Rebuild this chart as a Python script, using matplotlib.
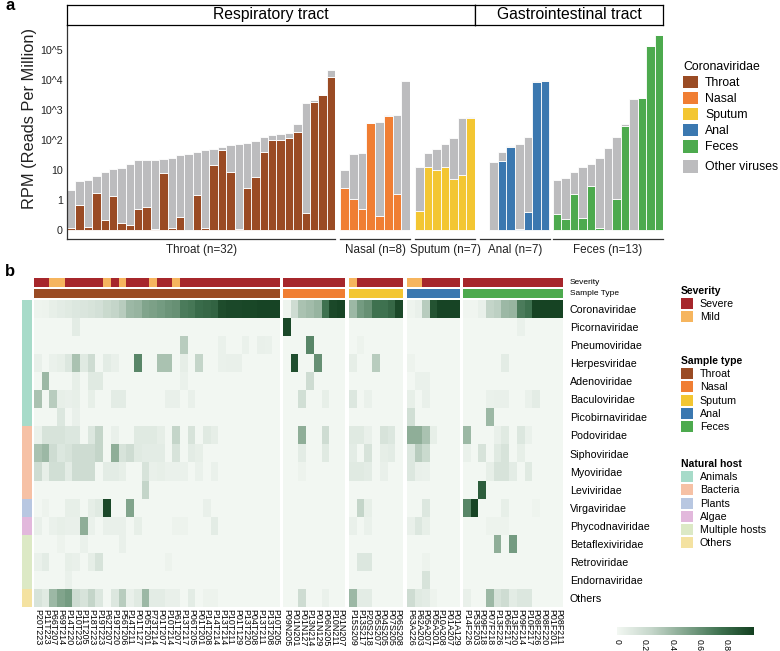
import numpy as np
import matplotlib
matplotlib.use('Agg')
import matplotlib.pyplot as plt
from matplotlib.colors import ListedColormap, LinearSegmentedColormap
from matplotlib.patches import Patch

plt.rcParams['font.family'] = ['Liberation Sans', 'DejaVu Sans']

# ---------------- panel a data (RPM) ----------------
throat_total = [2.2, 4.2, 4.6, 6.5, 8.8, 11, 11.7, 16, 21, 21, 22, 23, 24.5, 31, 34, 40,
                48, 49, 60, 66, 76, 77, 93, 130, 147, 155, 170, 330, 1750, 2150, 3200, 21500]
throat_cov = [0.12, 0.7, 0.13, 1.7, 0.22, 1.35, 0.17, 0.15, 0.5, 0.58, 0.11, 8.1, 0.12, 0.28, 0, 1.5,
              0.12, 15, 46, 8.5, 0.11, 2.6, 6, 40, 102, 102, 120, 185, 0.37, 1900, 3200, 13000]
nasal_total = [10, 33, 38, 370, 400, 680, 690, 9500]
nasal_cov = [2.6, 1.05, 0.49, 370, 0.29, 620, 1.6, 0]
sputum_total = [12.3, 36, 50, 72, 114, 550, 600]
sputum_cov = [0.44, 13, 10, 13, 5.2, 7, 530]
anal_total = [18, 39, 65, 74, 123, 9300, 9800]
anal_cov = [0, 19.5, 59, 0.11, 0.41, 8300, 9300]
feces_total = [4.6, 5.3, 8.4, 12.6, 16, 26, 55, 125, 340, 2300, 2500, 138000, 320000]
feces_cov = [0.33, 0.23, 1.6, 0.26, 3.0, 0.12, 0, 1.1, 300, 0, 2500, 138000, 320000]

sample_types = ['Throat', 'Nasal', 'Sputum', 'Anal', 'Feces']
sample_colors = ['#9A4B24', '#F07E33', '#F3C632', '#3B78B0', '#4DAA4E']
other_color = '#BCBCBE'
ytick_labels = ['0', '1', '10', '10^2', '10^3', '10^4', '10^5']

# ---------------- panel b data (fraction of reads) ----------------
families = ['Coronaviridae', 'Picornaviridae', 'Pneumoviridae', 'Herpesviridae', 'Adenoviridae',
            'Baculoviridae', 'Picobirnaviridae', 'Podoviridae', 'Siphoviridae', 'Myoviridae',
            'Leviviridae', 'Virgaviridae', 'Phycodnaviridae', 'Betaflexiviridae', 'Retroviridae',
            'Endornaviridae', 'Others']
family_host = [0, 0, 0, 0, 0, 0, 0, 1, 1, 1, 1, 2, 3, 4, 4, 4, 5]
host_names = ['Animals', 'Bacteria', 'Plants', 'Algae', 'Multiple hosts', 'Others']
host_colors = ['#A7DBC9', '#F6C1A5', '#B8C7E1', '#E2B8DC', '#DCE9C5', '#F4E2A1']
sev_names = ['Severe', 'Mild']
sev_colors = ['#A6262B', '#F6B55E']

throat_ids = ['P20T223', 'P11T223', 'P66T207', 'P69T214', 'P14T220', 'P10T223', 'P11T205', 'P18T223',
              'P19T223', 'P62T207', 'P19T220', 'P56T206', 'P14T211', 'P01T127', 'P05T201', 'P73T214',
              'P01T207', 'P10T214', 'P61T207', 'P13T217', 'P06T205', 'P01T201', 'P14T208', 'P14T214',
              'P13T214', 'P10T211', 'P01T129', 'P13T220', 'P04T208', 'P13T211', 'P13T208', 'P10T205']
nasal_ids = ['P09N205', 'P01N201', 'P01N127', 'P13N214', 'P01N129', 'P06N205', 'P10N211', 'P01N207']
sputum_ids = ['P15S209', 'P13S217', 'P20S218', 'P05S207', 'P04S205', 'P07S205', 'P06S208']
anal_ids = ['P63A226', 'P62A203', 'P05A207', 'P05A201', 'P10A208', 'P01A207', 'P01A129']
feces_ids = ['P14F226', 'P53F203', 'P09F218', 'P07F218', 'P13F226', 'P06F217', 'P13F220',
             'P09F214', 'P10F217', 'P08F226', 'P08F220', 'P01F201', 'P08F211']

# 1 = severe, 0 = mild
throat_sev = [1, 1, 0, 0, 1, 1, 1, 1, 1, 0, 1, 0, 1, 1, 1, 0, 1, 1, 0] + [1] * 13
nasal_sev = [1] * 8
sputum_sev = [0, 1, 1, 1, 1, 1, 1]
anal_sev = [0, 0, 1, 1, 1, 1, 1]
feces_sev = [1] * 13

throat_hm = [
    [.02, .03, .06, .08, .10, .12, .13, .15, .17, .22, .25, .30, .40, .42, .50, .52, .55, .58, .60, .70, .72, .78, .80, .82, .93, .95, .95, .96, .96, .97, .97, .97],
    [0, 0, 0, 0, 0, .08, 0, 0, 0, 0, 0, 0, 0, 0, 0, 0, 0, 0, 0, 0, 0, 0, 0, 0, 0, 0, 0, 0, 0, 0, 0, 0],
    [0, 0, 0, 0, 0, 0, 0, 0, 0, 0, 0, 0, 0, 0, 0, 0, 0, 0, 0, .30, 0, 0, 0, 0, .04, 0, 0, .04, 0, .05, .04, 0],
    [.05, 0, .04, .06, .12, .35, .10, .20, 0, .08, .05, 0, 0, .65, 0, 0, .35, .35, 0, .07, 0, .25, 0, 0, .04, .05, .05, 0, 0, 0, 0, 0],
    [0, .40, 0, 0, 0, .06, 0, .10, .10, 0, 0, 0, 0, 0, 0, 0, 0, 0, 0, .04, 0, 0, 0, 0, 0, 0, 0, 0, 0, 0, 0, 0],
    [.35, 0, .30, .06, .05, .06, 0, .06, 0, 0, .08, .08, 0, 0, 0, 0, 0, .05, .05, 0, .05, 0, 0, 0, 0, 0, 0, 0, 0, 0, 0, 0],
    [0, 0, 0, .12, 0, .05, 0, 0, 0, 0, 0, 0, 0, 0, 0, 0, 0, 0, 0, 0, 0, 0, 0, 0, 0, 0, 0, 0, 0, 0, 0, 0],
    [.04, .15, .15, .15, .12, .12, 0, .12, .25, 0, .05, 0, 0, .10, .10, .10, .07, 0, .25, 0, .15, 0, .10, .07, 0, 0, 0, 0, 0, 0, 0, 0],
    [.35, .40, .20, .12, .15, .20, .20, .20, .25, 0, .45, .15, .20, .10, .08, .08, .08, 0, .15, 0, .08, .06, 0, 0, 0, 0, 0, 0, 0, 0, 0, 0],
    [.20, .06, .18, .18, .08, .20, .20, .20, 0, .08, .08, .06, 0, 0, .15, .05, .06, .04, .04, .04, 0, .04, 0, .04, 0, 0, 0, 0, 0, 0, 0, 0],
    [0, 0, 0, 0, 0, 0, 0, 0, 0, 0, 0, 0, 0, 0, .25, 0, 0, 0, 0, 0, 0, 0, 0, 0, 0, 0, 0, 0, 0, 0, 0, 0],
    [0, .03, 0, 0, .06, .06, 0, .07, .10, .95, 0, 0, .50, 0, 0, 0, 0, 0, 0, 0, 0, 0, .05, 0, 0, 0, 0, 0, 0, 0, 0, 0],
    [.05, 0, .04, .06, .05, .05, .45, .04, 0, .05, .05, .05, 0, .06, 0, 0, 0, 0, .03, .03, 0, 0, 0, .08, 0, 0, 0, 0, 0, 0, 0, 0],
    [0, 0, 0, .03, 0, 0, .04, 0, 0, 0, 0, .05, 0, 0, 0, 0, 0, 0, 0, 0, 0, 0, 0, 0, 0, 0, 0, 0, 0, 0, 0, 0],
    [.04, .08, 0, 0, .06, .05, 0, .07, .15, 0, 0, 0, 0, 0, 0, 0, 0, .03, 0, 0, 0, 0, 0, 0, 0, 0, 0, 0, 0, 0, 0, 0],
    [0, 0, 0, 0, .04, 0, 0, 0, 0, 0, 0, 0, 0, 0, 0, 0, 0, 0, 0, 0, 0, 0, 0, 0, 0, 0, 0, 0, 0, 0, 0, 0],
    [.15, .10, .40, .50, .55, .20, .15, .25, .12, 0, .12, .30, .05, .10, .40, .08, .08, .05, .05, 0, .08, 0, .03, .03, 0, 0, 0, 0, 0, 0, 0, 0],
]
nasal_hm = [
    [.02, .20, .35, .38, .42, .75, .95, .97],
    [.95, 0, 0, 0, 0, 0, 0, 0],
    [0, 0, 0, .65, 0, 0, 0, 0],
    [0, .92, 0, 0, .60, 0, 0, 0],
    [0, 0, 0, .20, 0, 0, 0, 0],
    [0, 0, .18, 0, 0, .06, 0, 0],
    [0, 0, 0, 0, 0, 0, 0, 0],
    [0, 0, .45, 0, 0, .20, 0, 0],
    [0, 0, .08, 0, 0, .10, 0, 0],
    [0, 0, .03, 0, 0, 0, 0, 0],
    [0, 0, 0, 0, 0, 0, 0, 0],
    [0, 0, 0, 0, 0, 0, 0, 0],
    [0, 0, 0, 0, 0, 0, 0, 0],
    [0, 0, 0, 0, 0, 0, 0, 0],
    [0, 0, 0, 0, 0, 0, 0, 0],
    [0, 0, 0, 0, 0, 0, 0, 0],
    [0, 0, .20, 0, 0, .04, 0, 0],
]
sputum_hm = [
    [.40, .55, .60, .75, .75, .80, .95],
    [0, 0, 0, 0, 0, 0, 0],
    [0, .03, 0, 0, 0, 0, 0],
    [.07, 0, 0, .30, 0, 0, 0],
    [0, 0, 0, 0, 0, 0, 0],
    [.12, 0, .04, 0, 0, 0, 0],
    [0, 0, 0, 0, 0, 0, 0],
    [.10, .10, .05, 0, .15, .12, 0],
    [.08, 0, .15, 0, .07, .08, 0],
    [.10, .10, .08, 0, .05, 0, 0],
    [0, 0, 0, 0, 0, 0, 0],
    [0, .25, .06, 0, 0, 0, 0],
    [.05, 0, .04, 0, 0, 0, 0],
    [0, 0, 0, 0, 0, 0, 0],
    [0, .12, .12, 0, 0, 0, 0],
    [0, 0, 0, 0, 0, 0, 0],
    [.40, .08, .08, 0, 0, 0, 0],
]
anal_hm = [
    [.02, .05, .30, .90, .97, .97, .97],
    [0, 0, 0, 0, 0, 0, 0],
    [0, 0, 0, 0, 0, 0, 0],
    [.03, 0, 0, 0, 0, 0, 0],
    [0, .04, .04, 0, 0, 0, 0],
    [.06, 0, .05, 0, 0, 0, 0],
    [.18, 0, 0, 0, 0, 0, 0],
    [.45, .45, .35, .06, 0, 0, 0],
    [.12, .30, .22, 0, 0, 0, 0],
    [.12, .05, .04, 0, 0, 0, 0],
    [0, 0, 0, 0, 0, 0, 0],
    [0, 0, .12, 0, 0, 0, 0],
    [.05, .12, .06, 0, 0, 0, 0],
    [0, 0, 0, 0, 0, 0, 0],
    [0, 0, .03, 0, 0, 0, 0],
    [0, 0, .15, 0, 0, 0, 0],
    [.20, .10, .08, .03, 0, 0, 0],
]
feces_hm = [
    [.01, .01, .05, .25, .28, .40, .42, .70, .75, .98, .98, .98, .98],
    [0, 0, 0, 0, 0, 0, 0, .04, 0, 0, 0, 0, 0],
    [0, 0, 0, 0, 0, 0, 0, 0, 0, 0, 0, 0, 0],
    [0, 0, 0, 0, 0, .08, 0, 0, 0, 0, 0, 0, 0],
    [0, 0, 0, 0, 0, 0, 0, 0, 0, 0, 0, 0, 0],
    [0, 0, 0, .04, .05, .05, 0, 0, .04, .08, 0, 0, 0],
    [0, 0, 0, .40, 0, 0, 0, 0, 0, 0, 0, 0, 0],
    [.40, 0, 0, 0, .05, .10, 0, .12, .04, 0, 0, 0, 0],
    [.04, 0, .15, 0, .10, .15, 0, .06, 0, 0, 0, 0, 0],
    [0, 0, 0, .06, .15, .15, .08, 0, .10, 0, 0, 0, 0],
    [0, 0, .85, 0, 0, 0, 0, 0, 0, 0, 0, 0, 0],
    [.65, .97, 0, 0, 0, .06, 0, 0, 0, .02, 0, 0, 0],
    [0, 0, 0, .03, .03, .03, 0, 0, 0, 0, 0, 0, 0],
    [0, 0, 0, 0, .45, 0, .55, 0, 0, 0, 0, 0, 0],
    [0, 0, 0, 0, 0, 0, 0, 0, 0, 0, 0, 0, 0],
    [0, 0, 0, 0, 0, 0, 0, 0, 0, 0, 0, 0, 0],
    [.05, 0, 0, .40, .15, .20, .08, .12, .12, 0, 0, 0, 0],
]

W, H = 780, 651
fig = plt.figure(figsize=(7.8, 6.51), dpi=100)


def box(x0, y0, x1, y1):
    # pixel box (top-left origin) -> figure fraction
    return [x0 / W, 1 - y1 / H, (x1 - x0) / W, (y1 - y0) / H]


def tr(v):
    # pseudo log: 0 shown one decade below 1
    return np.log10(np.maximum(np.asarray(v, dtype=float), 0.1))


# ---------------- panel a ----------------
bar_facets = [
    (throat_total, throat_cov, 67, 335, (-0.5, 31.5), 'Throat (n=32)'),
    (nasal_total, nasal_cov, 340, 410, (-0.5, 7.5), 'Nasal (n=8)'),
    (sputum_total, sputum_cov, 415, 475, (-0.5, 6.5), 'Sputum (n=7)'),
    (anal_total, anal_cov, 480, 550, (-1.6, 6.6), 'Anal (n=7)'),
    (feces_total, feces_cov, 553, 663, (-0.5, 12.5), 'Feces (n=13)'),
]
for i, (tot, cov, x0, x1, xl, lab) in enumerate(bar_facets):
    ax = fig.add_axes(box(x0, 24.5, x1, 239))
    pos = np.arange(len(tot))
    t = tr(tot)
    c = tr(cov)
    ax.bar(pos, c + 1, bottom=-1, width=1, color=sample_colors[i], edgecolor='white', linewidth=0.6)
    ax.bar(pos, t - c, bottom=c, width=1, color=other_color, edgecolor='white', linewidth=0.6)
    ax.set_xlim(*xl)
    ax.set_ylim(-1.3, 5.85)
    ax.set_xticks([])
    for s in ['top', 'right', 'left']:
        ax.spines[s].set_visible(False)
    ax.spines['bottom'].set_color('#333333')
    ax.spines['bottom'].set_linewidth(0.9)
    ax.text(0.5, -0.05, lab, transform=ax.transAxes, ha='center', va='center', fontsize=8.4, color='#222222')
    if i == 0:
        ax.spines['left'].set_visible(True)
        ax.spines['left'].set_color('#333333')
        ax.spines['left'].set_linewidth(0.9)
        ax.set_yticks(range(-1, 6))
        ax.set_yticklabels(ytick_labels)
        ax.tick_params(axis='y', length=0, pad=3, labelsize=7.7, labelcolor='#222222')
        ax.set_ylabel('RPM (Reads Per Million)', fontsize=11.8, color='#222222')
        ax.yaxis.set_label_coords(-0.112, 0.56)
    else:
        ax.set_yticks([])

for x0, x1, txt in [(67, 475, 'Respiratory tract'), (475, 663, 'Gastrointestinal tract')]:
    sa = fig.add_axes(box(x0, 5, x1, 24.5))
    sa.set_xticks([])
    sa.set_yticks([])
    for s in sa.spines.values():
        s.set_linewidth(0.9)
    sa.text(0.5, 0.5, txt, ha='center', va='center', fontsize=11.3, transform=sa.transAxes)

leg_kw = dict(frameon=False, fontsize=8.8, title_fontsize=8.8, handlelength=1.2, handleheight=1.2,
              labelspacing=0.22, handletextpad=0.6, borderpad=0, borderaxespad=0, alignment='left',
              loc='upper left')
fig.legend(handles=[Patch(fc=c, ec='none') for c in sample_colors], labels=sample_types,
           title='Coronaviridae', bbox_to_anchor=(683 / W, 1 - 61 / H), **leg_kw)
fig.legend(handles=[Patch(fc=other_color, ec='none')], labels=['Other viruses'],
           bbox_to_anchor=(683 / W, 1 - 160 / H), **leg_kw)

fig.text(5 / W, 1 - 6 / H, 'a', fontsize=12, fontweight='bold', va='center')
fig.text(5 / W, 1 - 272 / H, 'b', fontsize=12, fontweight='bold', va='center')

# ---------------- panel b ----------------
hm_cmap = LinearSegmentedColormap.from_list('gr', ['#F2F7F2', '#C5D6CA', '#82A58D', '#3F7250', '#133F20'])
sev_cmap = ListedColormap(sev_colors[::-1])  # 0 mild, 1 severe

hm_groups = [
    (throat_hm, throat_sev, throat_ids, 34, 280),
    (nasal_hm, nasal_sev, nasal_ids, 283, 345),
    (sputum_hm, sputum_sev, sputum_ids, 349, 402),
    (anal_hm, anal_sev, anal_ids, 407, 460),
    (feces_hm, feces_sev, feces_ids, 463, 563),
]
for i, (mat, sev, ids, x0, x1) in enumerate(hm_groups):
    a1 = fig.add_axes(box(x0, 278, x1, 287))
    a1.imshow([sev], cmap=sev_cmap, vmin=0, vmax=1, aspect='auto', interpolation='nearest')
    a2 = fig.add_axes(box(x0, 289, x1, 298))
    a2.imshow([[0] * len(ids)], cmap=ListedColormap([sample_colors[i]]), aspect='auto', interpolation='nearest')
    for a in (a1, a2):
        a.set_xticks([])
        a.set_yticks([])
        for s in a.spines.values():
            s.set_visible(False)
    ah = fig.add_axes(box(x0, 300, x1, 607))
    im = ah.imshow(np.array(mat), cmap=hm_cmap, vmin=0, vmax=1, aspect='auto', interpolation='nearest')
    for s in ah.spines.values():
        s.set_visible(False)
    ah.set_xticks(range(len(ids)))
    ah.set_xticklabels(ids, rotation=-90, fontsize=6.4)
    ah.tick_params(axis='x', length=0, pad=1.5)
    if i == len(hm_groups) - 1:
        ah.yaxis.tick_right()
        ah.set_yticks(range(len(families)))
        ah.set_yticklabels(families, fontsize=7.7)
        ah.tick_params(axis='y', length=0, pad=5)
    else:
        ah.set_yticks([])

fig.text(570 / W, 1 - 282.5 / H, 'Severity', fontsize=6, va='center')
fig.text(570 / W, 1 - 293.5 / H, 'Sample Type', fontsize=6, va='center')

hh = fig.add_axes(box(22, 300, 32, 607))
hh.imshow(np.array(family_host)[:, None], cmap=ListedColormap(host_colors), vmin=-0.5, vmax=5.5,
          aspect='auto', interpolation='nearest')
hh.axis('off')

leg2_kw = dict(frameon=False, fontsize=7.7, title_fontsize=7.5, handlelength=1.15, handleheight=1.2,
               labelspacing=0.2, handletextpad=0.6, borderpad=0, borderaxespad=0, alignment='left',
               loc='upper left')
for title, names, cols, ytop in [('Severity', sev_names, sev_colors, 286),
                                 ('Sample type', sample_types, sample_colors, 356),
                                 ('Natural host', host_names, host_colors, 459)]:
    lg = fig.legend(handles=[Patch(fc=c, ec='none') for c in cols], labels=names, title=title,
                    bbox_to_anchor=(681 / W, 1 - ytop / H), **leg2_kw)
    lg.get_title().set_fontweight('bold')

cax = fig.add_axes(box(617, 627, 754, 635))
cb = fig.colorbar(im, cax=cax, orientation='horizontal')
cb.outline.set_visible(False)
cb.set_ticks([0, 0.2, 0.4, 0.6, 0.8])
cb.set_ticklabels(['0', '0.2', '0.4', '0.6', '0.8'])
cax.tick_params(length=0, labelsize=6.2, pad=3, labelrotation=-90)

fig.savefig('out.png', dpi=100)
